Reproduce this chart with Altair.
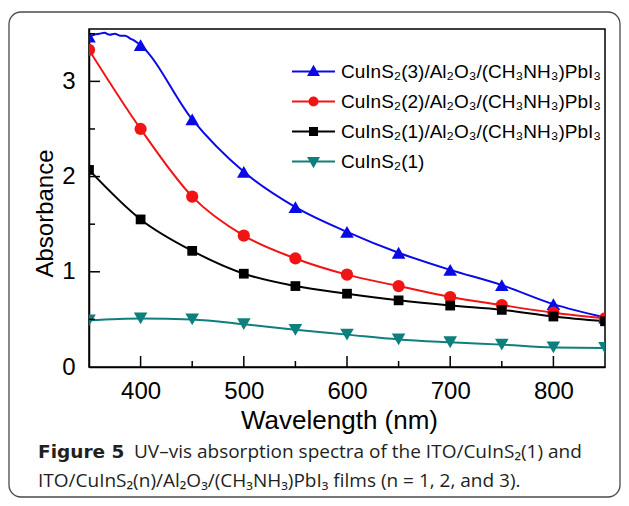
import altair as alt
import pandas as pd

# ---- data ----
wavelengths = [350, 400, 450, 500, 550, 600, 650, 700, 750, 800, 850]
abs_s3 = [3.47, 3.38, 2.60, 2.05, 1.68, 1.42, 1.20, 1.02, 0.86, 0.66, 0.52]
abs_s2 = [3.33, 2.50, 1.79, 1.38, 1.14, 0.97, 0.85, 0.735, 0.65, 0.57, 0.51]
abs_s1 = [2.07, 1.55, 1.22, 0.98, 0.85, 0.77, 0.70, 0.645, 0.60, 0.53, 0.48]
abs_bare = [0.49, 0.51, 0.50, 0.45, 0.39, 0.34, 0.29, 0.26, 0.235, 0.205, 0.20]
# extra readings of the noisy top of the blue curve (no markers there)
s3_detail_wl = [355, 360, 365, 370, 375, 380, 385, 390, 395]
s3_detail_abs = [3.49, 3.50, 3.51, 3.49, 3.50, 3.48, 3.48, 3.45, 3.42]

series_names = [
    "CuInS₂(3)/Al₂O₃/(CH₃NH₃)PbI₃",
    "CuInS₂(2)/Al₂O₃/(CH₃NH₃)PbI₃",
    "CuInS₂(1)/Al₂O₃/(CH₃NH₃)PbI₃",
    "CuInS₂(1)",
]
series_values = [abs_s3, abs_s2, abs_s1, abs_bare]
colors = ["#0a0ae6", "#f01414", "#000000", "#0d7f7c"]
shapes = ["triangle-up", "circle", "square", "triangle-down"]
sizes = [185, 150, 95, 185]

x_major_ticks = [400, 500, 600, 700, 800]
x_minor_ticks = [450, 550, 650, 750]
y_major_ticks = [1, 2, 3]
y_minor_ticks = [0.5, 1.5, 2.5, 3.5]

caption_bold = "Figure 5"
caption_line1 = "UV–vis absorption spectra of the ITO/CuInS₂(1) and"
caption_line2 = "ITO/CuInS₂(n)/Al₂O₃/(CH₃NH₃)PbI₃ films (n = 1, 2, and 3)."

# ---- tables ----
marker_rows = []
for name, vals in zip(series_names, series_values):
    for w, a in zip(wavelengths, vals):
        marker_rows.append({"series": name, "wl": w, "abs": a})
marker_df = pd.DataFrame(marker_rows)
line_df = pd.concat(
    [marker_df,
     pd.DataFrame({"series": series_names[0], "wl": s3_detail_wl, "abs": s3_detail_abs})],
    ignore_index=True,
)

W, H = 516, 338
FONT = "Liberation Sans"

xscale = alt.Scale(domain=[350, 850], nice=False, zero=False)
yscale = alt.Scale(domain=[0, 3.55], nice=False, zero=False)
xaxis = alt.Axis(values=x_major_ticks, title="Wavelength (nm)", ticks=False, tickSize=0,
                 grid=False, labelPadding=12, titleX=W / 2 - 8, titleY=61,
                 titleBaseline="alphabetic", titleFontSize=26)
yaxis = alt.Axis(values=[0, 1, 2, 3], title="Absorbance", ticks=False, tickSize=0,
                 grid=False, labelPadding=14, titleX=-37, titleY=184,
                 titleBaseline="alphabetic", titleFontSize=24)

X = alt.X("wl:Q", scale=xscale, axis=xaxis)
Y = alt.Y("abs:Q", scale=yscale, axis=yaxis)

# outer rounded frame (decoration)
frame = alt.Chart(pd.DataFrame({"k": [0]})).mark_rect(
    fillOpacity=0, stroke="#4a4a4a", strokeWidth=1.3, cornerRadius=12
).encode(x=alt.value(-80), x2=alt.value(531), y=alt.value(-17), y2=alt.value(468))

line_layers = []
marker_layers = []
for name, c, s, sz in zip(series_names, colors, shapes, sizes):
    sub_line = line_df[line_df["series"] == name]
    line_layers.append(
        alt.Chart(sub_line).mark_line(strokeWidth=2, interpolate="monotone", clip=True, color=c)
        .encode(x=X, y=Y)
    )
    sub = marker_df[marker_df["series"] == name]
    marker_layers.append(
        alt.Chart(sub).mark_point(shape=s, size=sz, filled=True, color=c, opacity=1, clip=True)
        .encode(x=X, y=Y)
    )

# legend symbols: line + marker as custom paths (unit box -1..1)
line_path = "M-4.3,0H4.3"
legend_paths = [
    line_path + "M0,-0.95L0.95,0.7L-0.95,0.7Z",
    line_path + "M-0.8,0A0.8,0.8,0,1,0,0.8,0A0.8,0.8,0,1,0,-0.8,0Z",
    line_path + "M-0.7,-0.7H0.7V0.7H-0.7Z",
    line_path + "M0,0.95L0.95,-0.7L-0.95,-0.7Z",
]
leg = alt.Legend(title=None, orient="none", legendX=215, legendY=33, labelFont=FONT,
                 labelFontSize=19, labelColor="black", symbolSize=100, symbolStrokeWidth=2,
                 symbolOpacity=1, labelOffset=18, rowPadding=10, padding=0, labelLimit=0)
legend_layer = alt.Chart(marker_df).mark_point(filled=True, opacity=0, strokeWidth=2).encode(
    x=X, y=Y,
    fill=alt.Fill("series:N", scale=alt.Scale(domain=series_names, range=colors), legend=leg),
    stroke=alt.Stroke("series:N", scale=alt.Scale(domain=series_names, range=colors), legend=leg),
    shape=alt.Shape("series:N", scale=alt.Scale(domain=series_names, range=legend_paths), legend=leg),
)

# inward ticks
def xticks(vals, length):
    return alt.Chart(pd.DataFrame({"wl": vals})).mark_rule(color="black", strokeWidth=1.5).encode(
        x=X, y=alt.value(H), y2=alt.value(H - length))

def yticks(vals, length):
    return alt.Chart(pd.DataFrame({"abs": vals})).mark_rule(color="black", strokeWidth=1.5).encode(
        y=Y, x=alt.value(0), x2=alt.value(length))

tick_layers = [xticks(x_major_ticks, 11), xticks(x_minor_ticks, 6),
               yticks(y_major_ticks, 11), yticks(y_minor_ticks, 6)]

# caption
cap_df = pd.DataFrame({"k": [0]})
cap1b = alt.Chart(cap_df).mark_text(text=caption_bold, font="DejaVu Sans", fontSize=18.5,
                                    fontWeight="bold", align="left", baseline="alphabetic",
                                    color="#231f20").encode(x=alt.value(-51), y=alt.value(429))
cap1 = alt.Chart(cap_df).mark_text(text=caption_line1, font="Open Sans", fontSize=19,
                                   align="left", baseline="alphabetic",
                                   color="#231f20").encode(x=alt.value(45), y=alt.value(429))
cap2 = alt.Chart(cap_df).mark_text(text=caption_line2, font="Open Sans", fontSize=19,
                                   align="left", baseline="alphabetic",
                                   color="#231f20").encode(x=alt.value(-51), y=alt.value(458))

chart = alt.layer(
    frame, *line_layers, *marker_layers, legend_layer, *tick_layers, cap1b, cap1, cap2
).properties(
    width=W, height=H,
    autosize=alt.AutoSizeParams(type="none"),
    padding={"left": 81, "top": 21, "right": 16, "bottom": 131},
).configure_view(
    stroke="black", strokeWidth=1.5
).configure_axis(
    domainColor="black", domainWidth=1.5,
    labelFont=FONT, labelFontSize=24, labelColor="black",
    titleFont=FONT, titleFontWeight="normal", titleColor="black",
)

chart.save("out.html", embed_options={"renderer": "svg", "actions": False})
